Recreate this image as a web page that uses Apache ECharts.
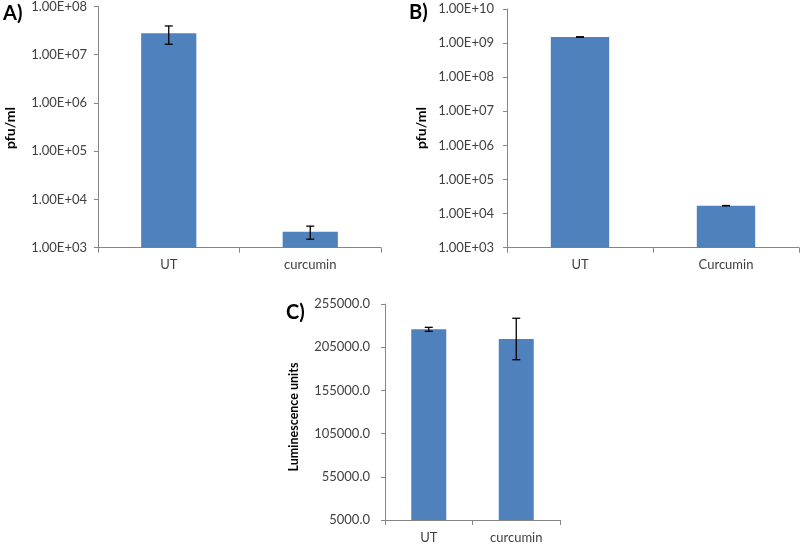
<!DOCTYPE html>
<html>
<head>
<meta charset="utf-8">
<script src="https://cdn.jsdelivr.net/npm/echarts@6/dist/echarts.min.js"></script>
<style>html,body{margin:0;padding:0;background:#fff}#c{width:805px;height:544px}</style>
</head>
<body>
<div id="c"></div>
<script>
// Panel A
const catsA = ['UT', 'curcumin'];
const valsA = [2.8e7, 2150];
const errA = [1.15e7, 650];
const ticksA = ['1.00E+03','1.00E+04','1.00E+05','1.00E+06','1.00E+07','1.00E+08'];
// Panel B
const catsB = ['UT', 'Curcumin'];
const valsB = [1.51e9, 1.71e4];
const errB = [2e7, 150];
const ticksB = ['1.00E+03','1.00E+04','1.00E+05','1.00E+06','1.00E+07','1.00E+08','1.00E+09','1.00E+10'];
// Panel C
const catsC = ['UT', 'curcumin'];
const valsC = [225700, 214500];
const errC = [2300, 24000];
const ticksC = ['5000.0','55000.0','105000.0','155000.0','205000.0','255000.0'];

const BAR = '#4F81BD';
const AX = '#868686';
const FONT = 'Lato';
const TXT = '#404040';

function expFmt(v){
  const e = Math.round(Math.log10(v));
  return '1.00E+' + (e < 10 ? '0' + e : '' + e);
}

function yLog(grid, min, max, margin){
  return {
    gridIndex: grid, type: 'log', logBase: 10, min: min, max: max,
    axisLine: {show: true, lineStyle: {color: AX, width: 1}},
    axisTick: {show: true, length: 4, lineStyle: {color: AX}},
    splitLine: {show: false},
    axisLabel: {fontFamily: FONT, fontSize: 13, color: TXT, margin: margin, formatter: expFmt}
  };
}
function xCat(grid, cats){
  return {
    gridIndex: grid, type: 'category', data: cats,
    axisLine: {show: true, lineStyle: {color: AX, width: 1}},
    axisTick: {show: true, length: 5, alignWithLabel: false, lineStyle: {color: AX}},
    axisLabel: {fontFamily: FONT, fontSize: 13, color: TXT, margin: 11}
  };
}
function errSeries(idx, vals, errs){
  return {
    type: 'custom', xAxisIndex: idx, yAxisIndex: idx, z: 10,
    data: vals.map((v, i) => [i, v, errs[i]]),
    renderItem: function(params, api){
      const i = api.value(0), v = api.value(1), e = api.value(2);
      const top = api.coord([i, v + e]);
      const bot = api.coord([i, v - e]);
      const hw = 4;
      const st = {stroke: '#000', lineWidth: 1.3};
      return {type: 'group', children: [
        {type: 'line', shape: {x1: top[0], y1: top[1], x2: bot[0], y2: bot[1]}, style: st},
        {type: 'line', shape: {x1: top[0]-hw, y1: top[1], x2: top[0]+hw, y2: top[1]}, style: st},
        {type: 'line', shape: {x1: bot[0]-hw, y1: bot[1], x2: bot[0]+hw, y2: bot[1]}, style: st}
      ]};
    }
  };
}

const chart = echarts.init(document.getElementById('c'), null, {renderer: 'canvas'});
chart.setOption({
  animation: false,
  backgroundColor: '#fff',
  grid: [
    {left: 98, top: 6.5, width: 283, height: 241.2},
    {left: 507, top: 9, width: 292, height: 238.7},
    {left: 385, top: 304, width: 175, height: 216}
  ],
  xAxis: [xCat(0, catsA), xCat(1, catsB), xCat(2, catsC)],
  yAxis: [
    yLog(0, 1e3, 1e8, 11),
    yLog(1, 1e3, 1e10, 13),
    {
      gridIndex: 2, type: 'value', min: 5000, max: 255000, interval: 50000,
      axisLine: {show: true, lineStyle: {color: AX, width: 1}},
      axisTick: {show: true, length: 4, lineStyle: {color: AX}},
      splitLine: {show: false},
      axisLabel: {fontFamily: FONT, fontSize: 13, color: TXT, margin: 15, formatter: v => v.toFixed(1)}
    }
  ],
  series: [
    {type: 'bar', xAxisIndex: 0, yAxisIndex: 0, data: valsA, barWidth: '39%', itemStyle: {color: BAR}},
    {type: 'bar', xAxisIndex: 1, yAxisIndex: 1, data: valsB, barWidth: '40%', itemStyle: {color: BAR}},
    {type: 'bar', xAxisIndex: 2, yAxisIndex: 2, data: valsC, barWidth: '40%', itemStyle: {color: BAR}},
    errSeries(0, valsA, errA),
    errSeries(1, valsB, errB),
    errSeries(2, valsC, errC)
  ],
  graphic: [
    {type: 'text', x: 3, y: 4, style: {text: 'A)', font: 'bold 20px ' + FONT, fill: '#000'}},
    {type: 'text', x: 409, y: 3, style: {text: 'B)', font: 'bold 20px ' + FONT, fill: '#000'}},
    {type: 'text', x: 286, y: 303, style: {text: 'C)', font: 'bold 20px ' + FONT, fill: '#000'}},
    {type: 'text', x: 10, y: 128, rotation: Math.PI/2, style: {text: 'pfu/ml', font: 'bold 14px ' + FONT, fill: '#000', align: 'center', verticalAlign: 'middle'}},
    {type: 'text', x: 421, y: 128, rotation: Math.PI/2, style: {text: 'pfu/ml', font: 'bold 14px ' + FONT, fill: '#000', align: 'center', verticalAlign: 'middle'}},
    {type: 'text', x: 294, y: 417, rotation: Math.PI/2, style: {text: 'Luminescence units', font: 'bold 12.5px ' + FONT, fill: '#000', align: 'center', verticalAlign: 'middle'}}
  ]
});
</script>
</body>
</html>
